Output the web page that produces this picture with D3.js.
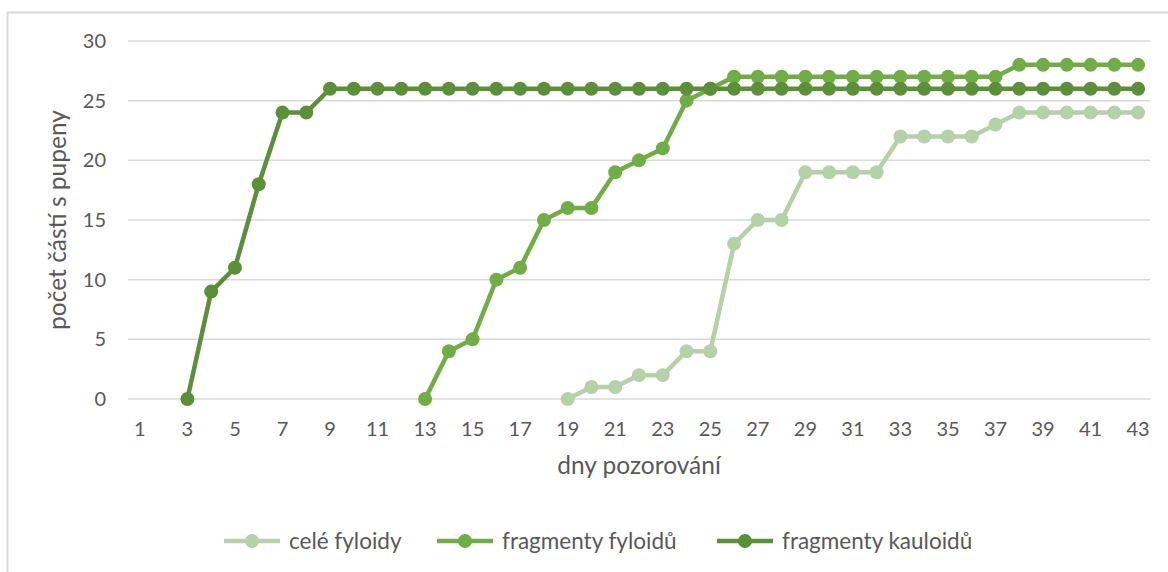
<!DOCTYPE html>
<html>
<head>
<meta charset="utf-8">
<script src="https://cdn.jsdelivr.net/npm/d3@7"></script>
<style>
  body { margin: 0; background: #fff; }
  svg { display: block; font-family: Lato, "Open Sans", sans-serif; }
</style>
</head>
<body>
<script>
const width = 1168;
const height = 572;

// days 1..43
const days = d3.range(1, 44);
const yTicks = [0, 5, 10, 15, 20, 25, 30];

// values start at the given day
const celeStart = 19;
const celeFyloidy = [0, 1, 1, 2, 2, 4, 4, 13, 15, 15, 19, 19, 19, 19, 22, 22, 22, 22, 23, 24, 24, 24, 24, 24, 24];
const fyloidStart = 13;
const fragFyloidu = [0, 4, 5, 10, 11, 15, 16, 16, 19, 20, 21, 25, 26, 27, 27, 27, 27, 27, 27, 27, 27, 27, 27, 27, 27, 28, 28, 28, 28, 28, 28];
const kauloidStart = 3;
const fragKauloidu = [0, 9, 11, 18, 24, 24, 26, 26, 26, 26, 26, 26, 26, 26, 26, 26, 26, 26, 26, 26, 26, 26, 26, 26, 26, 26, 26, 26, 26, 26, 26, 26, 26, 26, 26, 26, 26, 26, 26, 26, 26];

const series = [
  { name: "celé fyloidy", start: celeStart, values: celeFyloidy, color: "#b4d1a8" },
  { name: "fragmenty fyloidů", start: fyloidStart, values: fragFyloidu, color: "#70ad47" },
  { name: "fragmenty kauloidů", start: kauloidStart, values: fragKauloidu, color: "#5c9038" }
];

const svg = d3.select("body").append("svg")
  .attr("width", width)
  .attr("height", height);

// chart border (left + top)
svg.append("path")
  .attr("d", "M7.5,572 V12.5 H1168")
  .attr("fill", "none")
  .attr("stroke", "#d9d9d9")
  .attr("stroke-width", 2);

const x = d3.scaleBand().domain(days).range([128, 1150]);
const y = d3.scaleLinear().domain([0, 30]).range([399, 41]);
const cx = d => x(d) + x.bandwidth() / 2;

// gridlines
svg.append("g")
  .selectAll("line")
  .data(yTicks)
  .join("line")
  .attr("x1", 128).attr("x2", 1150)
  .attr("y1", d => y(d)).attr("y2", d => y(d))
  .attr("stroke", "#d9d9d9")
  .attr("stroke-width", 1.5);

// y axis labels
const yAxis = svg.append("g")
  .attr("transform", "translate(106,0)")
  .call(d3.axisLeft(y).tickValues(yTicks).tickSize(0).tickPadding(0));
yAxis.select(".domain").remove();
yAxis.selectAll("text")
  .attr("font-size", 20)
  .attr("font-family", "Lato, 'Open Sans', sans-serif")
  .attr("fill", "#595959");

// x axis labels
const xAxis = svg.append("g")
  .attr("transform", "translate(0,422)")
  .call(d3.axisBottom(x).tickValues(days.filter(d => d % 2 === 1)).tickSize(0).tickPadding(0));
xAxis.select(".domain").remove();
xAxis.selectAll("text")
  .attr("font-size", 20)
  .attr("font-family", "Lato, 'Open Sans', sans-serif")
  .attr("fill", "#595959");

// axis titles
svg.append("text")
  .attr("x", 639).attr("y", 474)
  .attr("text-anchor", "middle")
  .attr("font-size", 24.5)
  .attr("fill", "#595959")
  .text("dny pozorování");

svg.append("text")
  .attr("transform", "translate(66,220) rotate(-90)")
  .attr("text-anchor", "middle")
  .attr("font-size", 24.5)
  .attr("fill", "#595959")
  .text("počet částí s pupeny");

// lines
const line = d3.line()
  .x(d => cx(d.day))
  .y(d => y(d.v));

series.forEach(s => {
  const pts = s.values.map((v, i) => ({ day: s.start + i, v }));
  const g = svg.append("g");
  g.append("path")
    .datum(pts)
    .attr("d", line)
    .attr("fill", "none")
    .attr("stroke", s.color)
    .attr("stroke-width", 4.5)
    .attr("stroke-linejoin", "round");
  g.selectAll("circle")
    .data(pts)
    .join("circle")
    .attr("cx", d => cx(d.day))
    .attr("cy", d => y(d.v))
    .attr("r", 7)
    .attr("fill", s.color);
});

// legend
const legendX = [224, 437, 717];
const legend = svg.append("g")
  .selectAll("g")
  .data(series)
  .join("g")
  .attr("transform", (d, i) => `translate(${legendX[i]},541)`);
legend.append("line")
  .attr("x1", 0).attr("x2", 56)
  .attr("stroke", d => d.color)
  .attr("stroke-width", 4.5);
legend.append("circle")
  .attr("cx", 28).attr("r", 7)
  .attr("fill", d => d.color);
legend.append("text")
  .attr("x", 65).attr("y", 7.5)
  .attr("font-size", 22.5)
  .attr("fill", "#595959")
  .text(d => d.name);
</script>
</body>
</html>
